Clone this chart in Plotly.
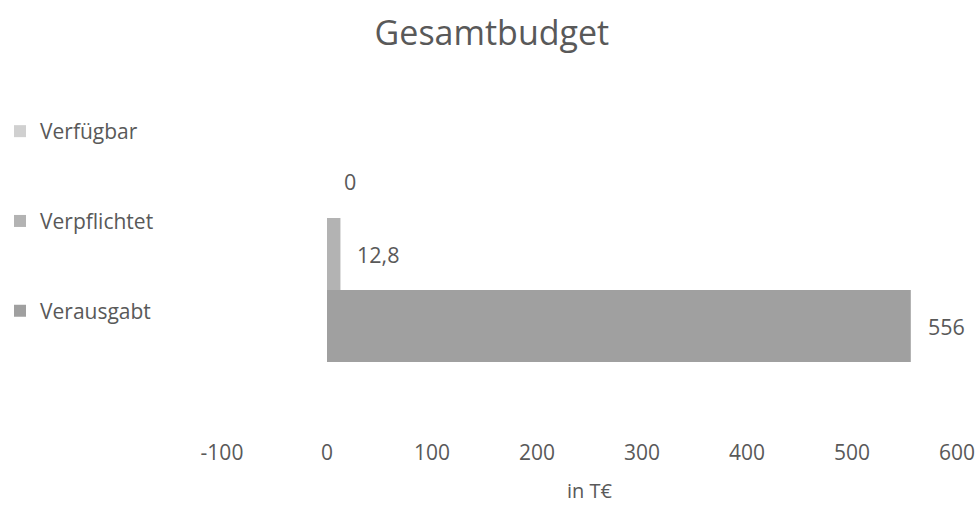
import plotly.graph_objects as go

# Budget series (values in thousand euros)
category = ["Gesamtbudget"]
series_names = ["Verausgabt", "Verpflichtet", "Verfügbar"]
series_values = [556, 12.8, 0]
series_colors = ["#a0a0a0", "#b3b3b3", "#d0d0d0"]
tick_values = [-100, 0, 100, 200, 300, 400, 500, 600]

FONT = "Open Sans"
TEXT = "#595959"
W, H = 978, 507
BARGAP = 0.413

fig = go.Figure()
for i, (name, val, col) in enumerate(zip(series_names, series_values, series_colors)):
    fig.add_trace(go.Bar(
        x=[val], y=category, name=name, orientation="h",
        marker=dict(color=col, line=dict(width=0)),
        legendgroup=name, legendrank=3 - i, hoverinfo="x+name",
    ))

# value labels placed just right of each bar end
n = len(series_values)
slot = (1 - BARGAP) / n
for i, val in enumerate(series_values):
    label = f"{val:g}".replace(".", ",")
    fig.add_annotation(
        x=val, y=(i - (n - 1) / 2) * slot, xref="x", yref="y",
        text=label, showarrow=False, xanchor="left", yanchor="middle",
        xshift=15, font=dict(family=FONT, size=21.5, color=TEXT),
    )

fig.update_layout(
    width=W, height=H,
    margin=dict(l=222, r=21, t=70, b=69, autoexpand=False),
    paper_bgcolor="white", plot_bgcolor="white",
    barmode="group", bargap=BARGAP, bargroupgap=0,
    title=dict(text="Gesamtbudget", x=0.503, xanchor="center",
               y=1 - 33 / H, yanchor="middle", yref="container",
               font=dict(family=FONT, size=34, color=TEXT)),
    legend=dict(xref="container", yref="container", x=0.0, xanchor="left",
                y=1 - 111 / H, yanchor="top", traceorder="grouped",
                tracegroupgap=59.5, font=dict(family=FONT, size=21, color=TEXT),
                bgcolor="rgba(0,0,0,0)"),
    showlegend=True,
    xaxis=dict(range=[-100, 600], tickvals=tick_values,
               ticktext=[str(t) for t in tick_values],
               showgrid=False, zeroline=False, showline=False, ticks="",
               tickfont=dict(family=FONT, size=21, color=TEXT),
               title=dict(text="in T€", standoff=18,
                          font=dict(family=FONT, size=20, color=TEXT))),
    yaxis=dict(showticklabels=False, showgrid=False, zeroline=False,
               showline=False, ticks="", range=[-0.5, 0.5]),
)

fig.write_html("out.html")
